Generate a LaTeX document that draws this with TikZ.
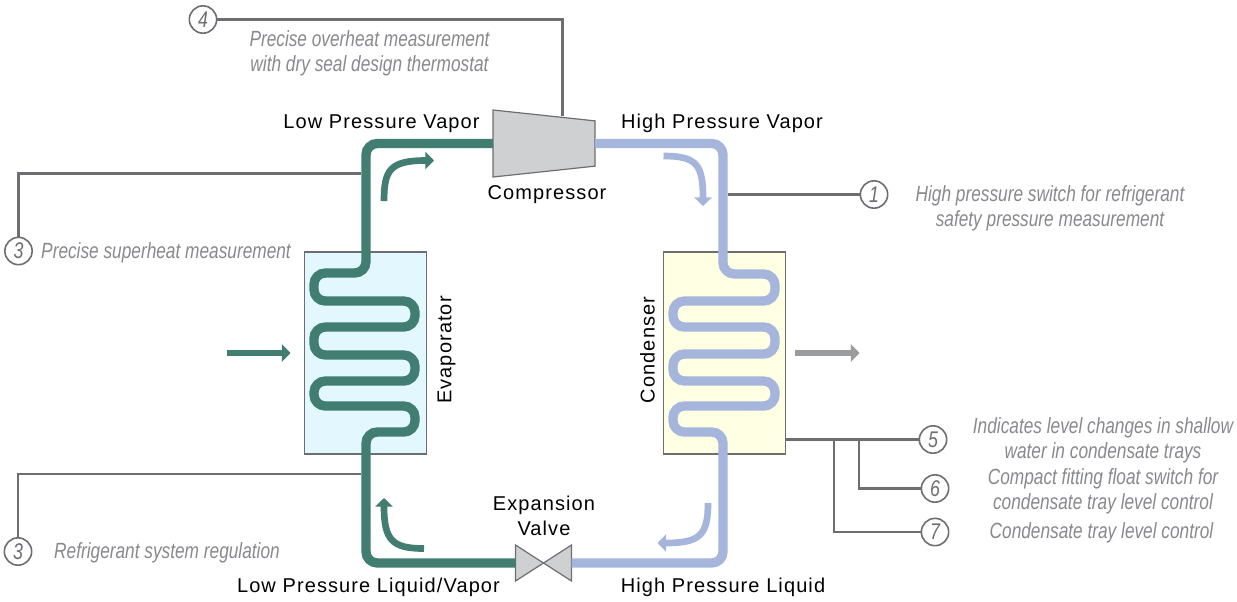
\documentclass[tikz,border=0pt]{standalone}
\usepackage{fontspec}
\setmainfont[LetterSpace=5.5]{Liberation Sans}
\newfontfamily\notefont[FakeStretch=0.785]{Liberation Sans}
\usetikzlibrary{positioning,arrows.meta,shapes.geometric}
\definecolor{lowgreen}{HTML}{417D70}
\definecolor{highblue}{HTML}{A6B5DB}
\definecolor{linegray}{HTML}{6D6E71}
\definecolor{notegray}{HTML}{88898C}
\definecolor{bodygray}{HTML}{CFD0D2}
\definecolor{evapfill}{HTML}{E3F8FE}
\definecolor{condfill}{HTML}{FFFFE3}
\tikzset{
	x=0.75pt, y=-0.75pt, % one unit is one pixel of the reference, y runs down
	pipelow/.style={line width=7pt, draw=lowgreen, rounded corners=8.5pt},
	pipehigh/.style={line width=7pt, draw=highblue, rounded corners=8.5pt},
	flowlow/.style={line width=5pt, draw=lowgreen, -{Triangle[length=6.5pt,width=13pt]}},
	flowhigh/.style={line width=5pt, draw=highblue, -{Triangle[length=6.5pt,width=13pt]}},
	airflow/.style={line width=5.2pt, -{Triangle[length=6.5pt,width=13pt]}},
	sensor/.style={line width=1.8pt, draw=linegray},
	coil/.style={draw=linegray, line width=0.9pt, minimum width=92pt, minimum height=151.5pt, inner sep=0pt},
	body/.style={draw=linegray, fill=bodygray, line width=0.9pt, inner sep=1pt, outer sep=0pt},
	gauge/.style={circle, draw=linegray, fill=white, line width=1.2pt, minimum size=20.5pt, inner sep=0pt, text=linegray, font=\notefont\itshape\fontsize{17}{18}\selectfont},
	notetext/.style={text=notegray, align=center, inner sep=0pt, font=\notefont\itshape\fontsize{16.5}{18.75}\selectfont},
	parttext/.style={text=black, align=center, inner sep=0pt, font=\fontsize{15}{18.75}\selectfont},
}
\begin{document}
\begin{tikzpicture}
	\useasboundingbox (0,0) rectangle (1237,601);
	% heat exchangers, compressor and valve
	\node[coil,fill=evapfill] (evap) at (365.5,353) {};
	\node[coil,fill=condfill] (cond) at (724.5,353) {};
	\node[body,trapezium,shape border rotate=270,trapezium stretches=true,trapezium left angle=76.5,trapezium right angle=76.5,minimum width=50.25pt,minimum height=76.5pt] (comp) at (544,143.5) {};
	\coordinate (valve) at (543.5,563);
	\node[body,isosceles triangle,isosceles triangle apex angle=65.5,shape border rotate=0,minimum height=21pt,anchor=apex] (valvea) at (valve) {};
	\node[body,isosceles triangle,isosceles triangle apex angle=65.5,shape border rotate=180,minimum height=21pt,anchor=apex] (valveb) at (valve) {};

	% refrigerant loop
	\draw[pipelow] (comp.west) -- (366,143.5) -- (366,273) -- (314,273) -- (314,301) -- (415,301) -- (415,327) -- (314,327) -- (314,355) -- (415,355) -- (415,381) -- (314,381) -- (314,406) -- (415,406) -- (415,432) -- (366,432) -- (366,563) -- (valvea.lower side);
	\draw[pipehigh] (comp.east) -- (723,143.5) -- (723,274) -- (775,274) -- (775,301) -- (673,301) -- (673,327) -- (775,327) -- (775,354) -- (673,354) -- (673,381) -- (775,381) -- (775,406) -- (673,406) -- (673,432) -- (723,432) -- (723,563) -- (valveb.lower side);

	% flow arrows
	\draw[flowlow] (384,201) .. controls (384,170) and (390,160.5) .. (434,160.5);
	\draw[flowhigh] (663.5,156) .. controls (697,156) and (703,165) .. (703,206);
	\draw[flowlow] (424,548.5) .. controls (392,548.5) and (384,540) .. (384,498);
	\draw[flowhigh] (708,503) .. controls (708,535) and (700,543) .. (657.5,543);
	\draw[airflow,draw=lowgreen] (226.5,353) -- (290.5,353);
	\draw[airflow,draw=notegray!85!white] (795,353) -- (859.5,353);

	% sensors
	\coordinate (top4) at (562.5,116);
	\coordinate (tap3a) at (361,173.5);
	\coordinate (tap3b) at (361,474);
	\coordinate (tap1) at (727.5,194.5);
	\coordinate (tap5) at (786,439.5);
	\coordinate (tap6) at (859,439.5);
	\coordinate (tap7) at (834,439.5);
	\node[gauge] (s4) at (203,19.5) {4};
	\node[gauge] (s3a) at (18.5,251) {3};
	\node[gauge] (s3b) at (18,551.5) {3};
	\node[gauge] (s1) at (874,194.5) {1};
	\node[gauge] (s5) at (933,439.5) {5};
	\node[gauge] (s6) at (935,488.5) {6};
	\node[gauge] (s7) at (935,532) {7};
	\draw[sensor] (s4) -| (top4);
	\draw[sensor] (s3a) |- (tap3a);
	\draw[sensor] (s3b) |- (tap3b);
	\draw[sensor] (tap1) -- (s1);
	\draw[sensor] (tap5) -- (s5);
	\draw[sensor] (tap6) |- (s6);
	\draw[sensor] (tap7) |- (s7);

	% part names
	\node[parttext] (lpv) at (381.5,124) {Low Pressure Vapor};
	\node[parttext] (hpv) at (722,123) {High Pressure Vapor};
	\node[parttext] (compname) at (547,195) {Compressor};
	\node[parttext] (valvename) at (544,516) {Expansion\\Valve};
	\node[parttext] (lpl) at (368.5,587) {Low Pressure Liquid/Vapor};
	\node[parttext] (hpl) at (723,587) {High Pressure Liquid};
	\node[parttext,rotate=90] (evapname) at (446.5,350) {Evaporator};
	\node[parttext,rotate=90] (condname) at (647.5,350) {Condenser};

	% sensor notes
	\node[notetext,right=12pt of s3a.east,anchor=west,xshift=-6pt,yshift=-1.5pt] (n3a) {Precise superheat measurement};
	\node[notetext] (n4) at (369.5,53) {Precise overheat measurement\\with dry seal design thermostat};
	\node[notetext] (n3b) at (167,553) {Refrigerant system regulation};
	\node[notetext] (n1) at (1050,208) {High pressure switch for refrigerant\\safety pressure measurement};
	\node[notetext] (n5) at (1103,440.5) {Indicates level changes in shallow\\water in condensate trays};
	\node[notetext] (n6) at (1103,491) {Compact fitting float switch for\\condensate tray level control};
	\node[notetext] (n7) at (1101.5,532.5) {Condensate tray level control};
\end{tikzpicture}
\end{document}
